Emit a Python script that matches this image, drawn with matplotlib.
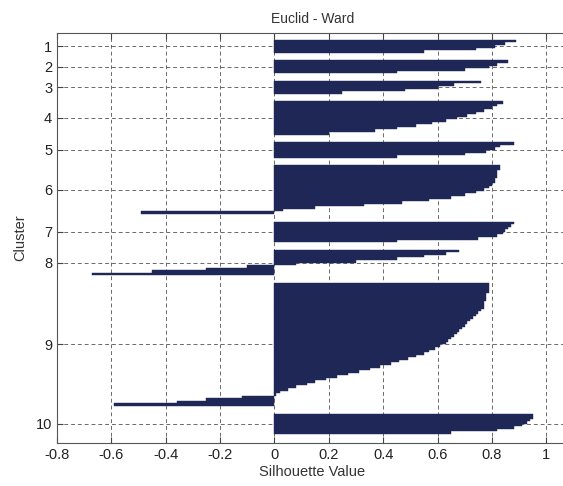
import numpy as np
import matplotlib
matplotlib.use("Agg")
import matplotlib.pyplot as plt

plt.rcParams['font.family'] = ['Liberation Sans', 'DejaVu Sans']

# silhouette values per cluster, sorted high -> low
c1 = [0.89, 0.85, 0.81, 0.74, 0.55]
c2 = [0.86, 0.82, 0.79, 0.70, 0.45]
c3 = [0.76, 0.66, 0.60, 0.48, 0.25]
c4 = [0.84, 0.82, 0.80, 0.77, 0.74, 0.71, 0.67, 0.63, 0.58, 0.52, 0.45, 0.37, 0.20]
c5 = [0.88, 0.83, 0.81, 0.78, 0.70, 0.45]
c6 = [0.83, 0.83, 0.82, 0.82, 0.82, 0.81, 0.81, 0.80, 0.79, 0.77, 0.74, 0.70,
      0.65, 0.57, 0.47, 0.33, 0.15, 0.03, -0.49]
c7 = [0.88, 0.87, 0.86, 0.85, 0.84, 0.82, 0.75, 0.45]
c8 = [0.68, 0.63, 0.55, 0.45, 0.30, 0.08, -0.10, -0.25, -0.45, -0.67]
c9 = [0.79, 0.79, 0.79, 0.79, 0.78, 0.78, 0.78, 0.77, 0.77, 0.77, 0.76, 0.75,
      0.74, 0.73, 0.72, 0.71, 0.70, 0.69, 0.68, 0.67, 0.66, 0.65, 0.64, 0.63,
      0.61, 0.59, 0.57, 0.55, 0.52, 0.49, 0.46, 0.43, 0.39, 0.35, 0.31, 0.27,
      0.23, 0.19, 0.15, 0.12, 0.08, 0.05, 0.02, 0.005, -0.12, -0.25, -0.36, -0.59]
c10 = [0.95, 0.95, 0.94, 0.93, 0.91, 0.88, 0.82, 0.65]

clusters = [c1, c2, c3, c4, c5, c6, c7, c8, c9, c10]
labels = ['1', '2', '3', '4', '5', '6', '7', '8', '9', '10']
gap = 3

fig = plt.figure(figsize=(5.63, 4.86), dpi=100)
ax = fig.add_axes([57 / 563, 43 / 486, 511 / 563, 410 / 486])

navy = '#1f2756'
pos = 0
centers = []
for vals in clusters:
    y = pos + np.arange(len(vals)) + 0.5
    ax.barh(y, vals, height=1.0, color=navy, edgecolor=navy, linewidth=0.3)
    centers.append(pos + len(vals) / 2)
    pos += len(vals) + gap
total = pos - gap

ax.set_ylim(total + 3.5, -2.7)
ax.set_xlim(-0.8, 1.08)
ax.set_yticks(centers)
ax.set_yticklabels(labels)
ax.set_xticks([-0.8, -0.6, -0.4, -0.2, 0, 0.2, 0.4, 0.6, 0.8, 1])
ax.set_xticklabels(['-0.8', '-0.6', '-0.4', '-0.2', '0', '0.2', '0.4', '0.6', '0.8', '1'])

ax.set_axisbelow(True)
ax.grid(True, color='#6a6a6a', linestyle=(0, (4, 3)), linewidth=0.7)
ax.tick_params(direction='in', length=4, top=True, labelsize=10.5,
               colors='#444444', labelcolor='#222222')
ax.spines['right'].set_visible(False)
for s in ['left', 'top', 'bottom']:
    ax.spines[s].set_color('#555555')
    ax.spines[s].set_linewidth(0.8)

ax.set_title('Euclid - Ward', fontsize=10, color='#333333', pad=7, x=0.5)
ax.set_xlabel('Silhouette Value', fontsize=10.5, color='#333333', labelpad=2)
ax.set_ylabel('Cluster', fontsize=10.5, color='#333333', labelpad=6)

fig.savefig('out.png', dpi=100)
